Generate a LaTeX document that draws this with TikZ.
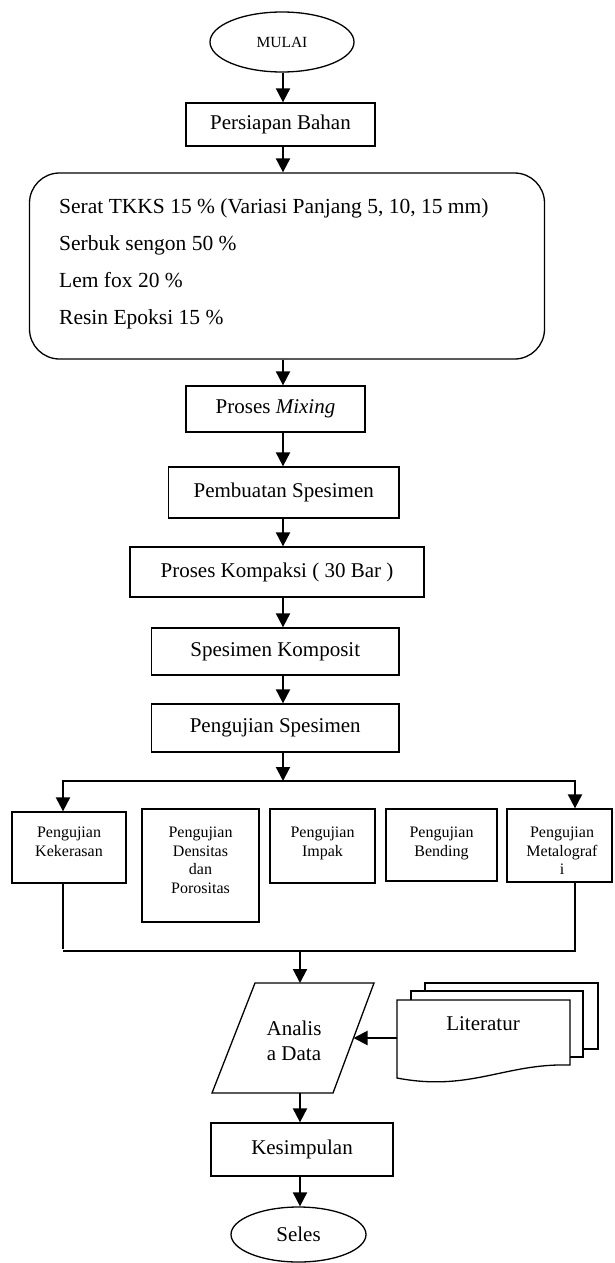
\documentclass[tikz,border=0pt]{standalone}
\usepackage{fontspec}
\setmainfont{Liberation Serif}
\usetikzlibrary{arrows.meta,shapes.geometric}
\begin{document}
\begin{tikzpicture}[x=1pt,y=-1pt,
  box/.style={draw,line width=1.3pt,inner sep=0pt,font=\fontsize{21}{25}\selectfont},
  sbox/.style={draw,line width=1.3pt,inner sep=0pt},
  oval/.style={draw,ellipse,line width=1.3pt,inner sep=0pt},
  stxt/.style={align=center,inner sep=0pt,anchor=north,font=\fontsize{16}{18.5}\selectfont},
  ltxt/.style={anchor=base west,inner sep=0pt,font=\fontsize{21.5}{25}\selectfont},
  arr/.style={line width=2pt,-{Triangle[length=14pt,width=14pt]}},
  ln/.style={line width=1.5pt}]
\useasboundingbox (0,0) rectangle (614,1263);
\coordinate (col) at (283,0);
% main column
\node[oval,minimum width=144pt,minimum height=60pt,font=\fontsize{15.5}{18}\selectfont] (mulai) at (282,42) {MULAI};
\node[box,minimum width=189pt,minimum height=43pt] (pers) at (280.5,124.5) {Persiapan Bahan};
\node[draw,line width=1.3pt,rounded corners=30pt,minimum width=515pt,minimum height=186pt,inner sep=0pt] (bahan) at (287,266) {};
\node[ltxt] (l1) at (59,213) {Serat TKKS 15 \% (Variasi Panjang 5, 10, 15 mm)};
\node[ltxt] (l2) at (59,250) {Serbuk sengon 50 \%};
\node[ltxt] (l3) at (59,287) {Lem fox 20 \%};
\node[ltxt] (l4) at (59,324) {Resin Epoksi 15 \%};
\node[box,minimum width=179pt,minimum height=46pt] (mix) at (275.5,409) {Proses \textit{Mixing}};
\node[box,minimum width=230.5pt,minimum height=51pt] (buat) at (283.75,492.5) {Pembuatan Spesimen};
\node[box,minimum width=294pt,minimum height=50pt] (kompaksi) at (277,572) {Proses Kompaksi ( 30 Bar )};
\node[box,minimum width=247.5pt,minimum height=47pt] (komposit) at (275.25,651.5) {Spesimen Komposit};
\node[box,minimum width=247.5pt,minimum height=48pt] (uji) at (275.25,728) {Pengujian Spesimen};
\draw[arr] (mulai.south -| col) -- (pers.north -| col);
\draw[arr] (pers.south -| col) -- (bahan.north -| col);
\draw[arr] (bahan.south -| col) -- (mix.north -| col);
\draw[arr] (mix.south -| col) -- (buat.north -| col);
\draw[arr] (buat.south -| col) -- (kompaksi.north -| col);
\draw[arr] (kompaksi.south -| col) -- (komposit.north -| col);
\draw[arr] (komposit.south -| col) -- (uji.north -| col);
% tests
\node[sbox,minimum width=114pt,minimum height=71pt] (kek) at (69,847.5) {};
\node[sbox,minimum width=117pt,minimum height=113pt] (den) at (200.5,865.5) {};
\node[sbox,minimum width=105pt,minimum height=74pt] (imp) at (322.5,846) {};
\node[sbox,minimum width=111pt,minimum height=72pt] (ben) at (441.5,845) {};
\node[sbox,minimum width=105pt,minimum height=73pt] (met) at (559.5,845.5) {};
\node[stxt] (tkek) at (69,827) {Pengujian\\Kekerasan};
\node[stxt] (tden) at (200.5,827) {Pengujian\\Densitas\\dan\\Porositas};
\node[stxt] (timp) at (322.5,827) {Pengujian\\Impak};
\node[stxt] (tben) at (441.5,827) {Pengujian\\Bending};
\node[stxt] (tmet) at (562,827) {Pengujian\\Metalograf\\i};
\coordinate (bm) at (283,781);
\coordinate (cl) at (63,951);
\coordinate (cr) at (575,951);
\coordinate (cm) at (300,951);
\draw[arr] (uji.south -| col) -- (bm);
\draw[arr] (bm) -| (kek.north -| cl);
\draw[arr] (bm) -| (met.north -| cr);
\draw[ln] (kek.south -| cl) -- ([yshift=2pt]cl) ;
\draw[ln] (cl) -- (cr) -- (met.south -| cr);
% analysis
\coordinate (p1) at (255,983);
\coordinate (p2) at (374,983);
\coordinate (p3) at (333,1093);
\coordinate (p4) at (212,1093);
\coordinate (pin) at (353.5,1038);
\draw[line width=1.3pt] (p1) -- (p2) -- (p3) -- (p4) -- cycle;
\node[align=center,inner sep=0pt,font=\fontsize{21}{25}\selectfont] (ana) at (294,1040.5) {Analis\\a Data};
\draw[arr] (cm) -- (p1 -| cm);
% literatur
\draw[line width=1.3pt,fill=white] (425,983) rectangle (598,1049);
\draw[line width=1.3pt,fill=white] (411,991) rectangle (583,1057);
\draw[line width=1.3pt,fill=white] (397,1000) -- (570,1000) -- (570,1065)
  .. controls (505,1063) and (470,1092) .. (397,1078) -- cycle;
\coordinate (lin) at (397,1038);
\node[inner sep=0pt,font=\fontsize{21}{25}\selectfont] (lit) at (483,1024) {Literatur};
\draw[arr] (lin) -- (pin);
% end
\node[box,minimum width=182pt,minimum height=53pt] (kes) at (302,1149.5) {Kesimpulan};
\node[oval,minimum width=135pt,minimum height=55pt,font=\fontsize{21}{25}\selectfont] (seles) at (298.5,1234.5) {Seles};
\draw[arr] (p4 -| cm) -- (kes.north -| cm);
\draw[arr] (kes.south -| cm) -- (seles.north -| cm);
\end{tikzpicture}
\end{document}
